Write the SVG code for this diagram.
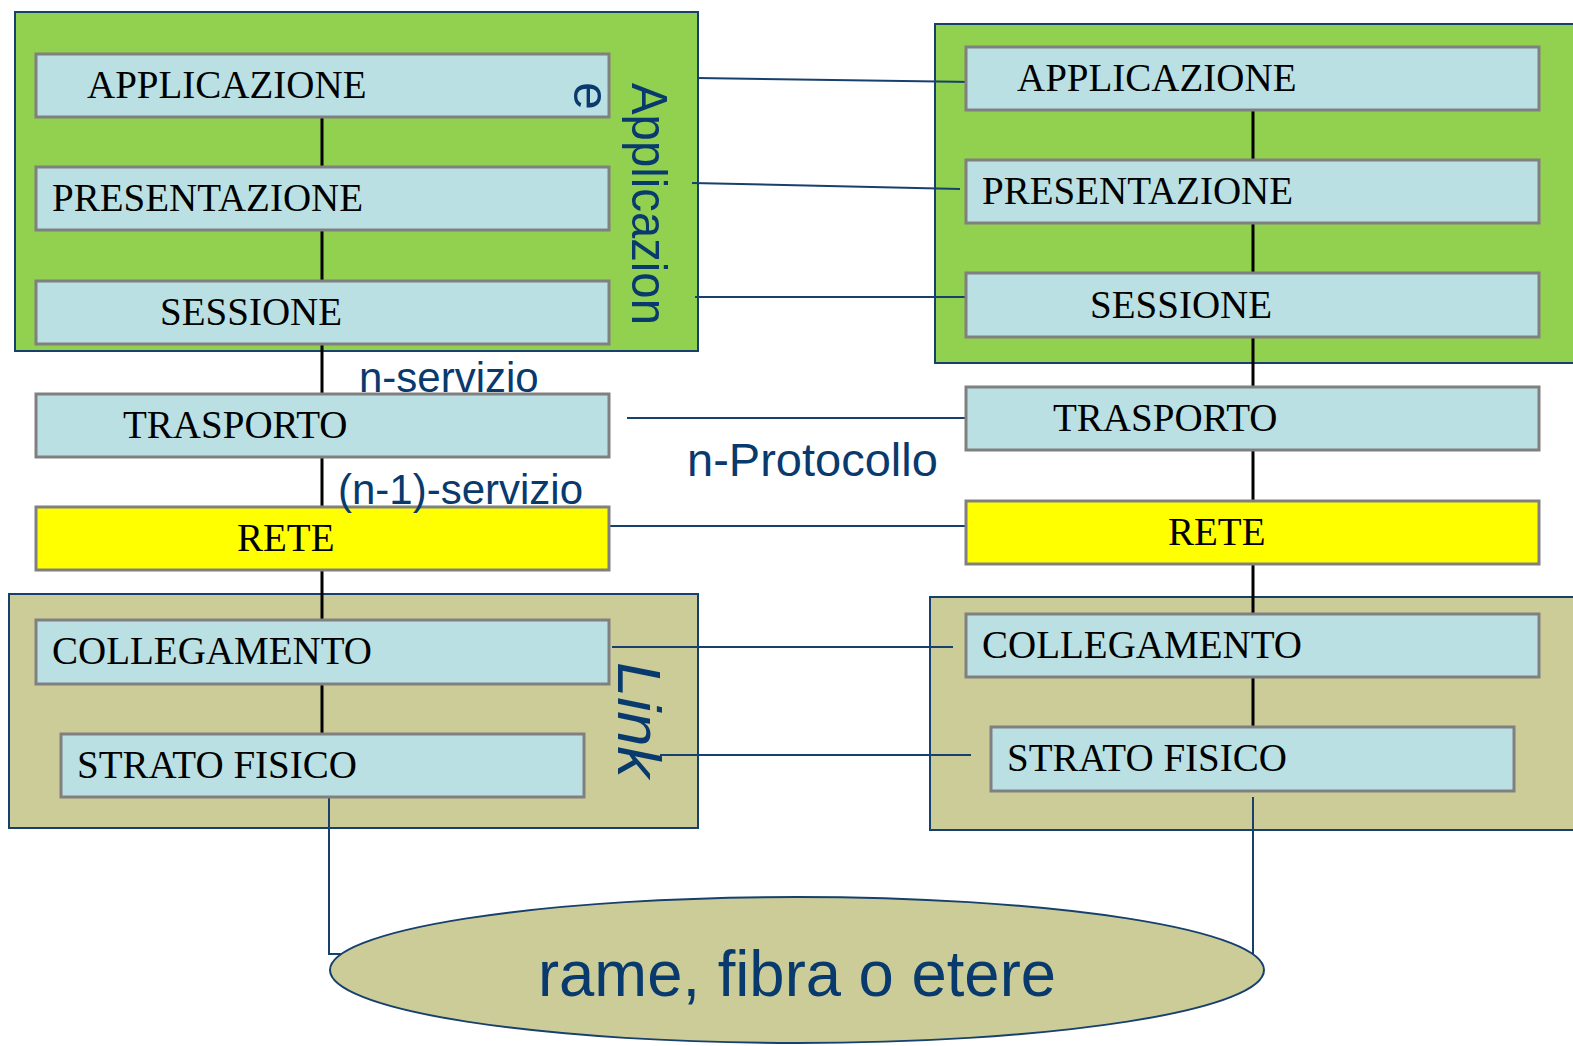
<svg xmlns="http://www.w3.org/2000/svg" width="1573" height="1046" viewBox="0 0 1573 1046">
<style>
.grp{fill:#92d050;stroke:#17406d;stroke-width:2}
.tan{fill:#cccc99;stroke:#17406d;stroke-width:2}
.box{fill:#bae0e3;stroke:#808080;stroke-width:3}
.yel{fill:#ffff00;stroke:#808080;stroke-width:3}
.lt{font-family:"Liberation Serif","Times New Roman",serif;font-size:39px;fill:#000}
.lab{font-family:"Liberation Sans",Arial,sans-serif;fill:#083a6e}
.vl{stroke:#000;stroke-width:3}
.bl{stroke:#17406d;stroke-width:2;fill:none}
</style>
<rect width="1573" height="1046" fill="#fff"/>
<g id="group-app-left"><rect class="grp" x="15" y="12" width="683" height="339"/></g>
<g id="group-app-right"><rect class="grp" x="935" y="24" width="645" height="339"/></g>
<g id="group-link-left"><rect class="tan" x="9" y="594" width="689" height="234"/></g>
<g id="group-link-right"><rect class="tan" x="930" y="597" width="650" height="233"/></g>
<g id="connectors">
<line class="vl" x1="322" y1="117" x2="322" y2="734"/>
<line class="vl" x1="1253" y1="110" x2="1253" y2="727"/>
<line class="bl" x1="697" y1="78" x2="973" y2="82"/>
<line class="bl" x1="692" y1="183" x2="960" y2="189"/>
<line class="bl" x1="695" y1="297" x2="970" y2="297"/>
<line class="bl" x1="627" y1="418" x2="966" y2="418"/>
<line class="bl" x1="609" y1="526" x2="966" y2="526"/>
<line class="bl" x1="612" y1="647" x2="953" y2="647"/>
<line class="bl" x1="660" y1="755" x2="971" y2="755"/>
<polyline class="bl" points="329,797 329,954 345,954"/>
<line class="bl" x1="1253" y1="797" x2="1253" y2="955"/>
</g>
<g id="l-app"><rect class="box" x="36" y="54" width="573" height="63"/><text class="lt" x="87" y="98">APPLICAZIONE</text></g>
<g id="l-pres"><rect class="box" x="36" y="167" width="573" height="63"/><text class="lt" x="52" y="211">PRESENTAZIONE</text></g>
<g id="l-sess"><rect class="box" x="36" y="281" width="573" height="63"/><text class="lt" x="160" y="325">SESSIONE</text></g>
<g id="l-trasp"><rect class="box" x="36" y="394" width="573" height="63"/><text class="lt" x="123" y="438">TRASPORTO</text></g>
<g id="l-rete"><rect class="yel" x="36" y="507" width="573" height="63"/><text class="lt" x="237" y="551">RETE</text></g>
<g id="l-coll"><rect class="box" x="36" y="620" width="573" height="64"/><text class="lt" x="52" y="664">COLLEGAMENTO</text></g>
<g id="l-fis"><rect class="box" x="61" y="734" width="523" height="63"/><text class="lt" x="77" y="778">STRATO FISICO</text></g>
<g id="r-app"><rect class="box" x="966" y="47" width="573" height="63"/><text class="lt" x="1017" y="91">APPLICAZIONE</text></g>
<g id="r-pres"><rect class="box" x="966" y="160" width="573" height="63"/><text class="lt" x="982" y="204">PRESENTAZIONE</text></g>
<g id="r-sess"><rect class="box" x="966" y="273" width="573" height="64"/><text class="lt" x="1090" y="318">SESSIONE</text></g>
<g id="r-trasp"><rect class="box" x="966" y="387" width="573" height="63"/><text class="lt" x="1053" y="431">TRASPORTO</text></g>
<g id="r-rete"><rect class="yel" x="966" y="501" width="573" height="63"/><text class="lt" x="1168" y="545">RETE</text></g>
<g id="r-coll"><rect class="box" x="966" y="614" width="573" height="63"/><text class="lt" x="982" y="658">COLLEGAMENTO</text></g>
<g id="r-fis"><rect class="box" x="991" y="727" width="523" height="64"/><text class="lt" x="1007" y="771">STRATO FISICO</text></g>
<g id="medium"><ellipse cx="797" cy="970" rx="467" ry="73" fill="#cccc99" stroke="#17406d" stroke-width="2"/>
<text class="lab" x="538" y="996" font-size="64" textLength="518" lengthAdjust="spacingAndGlyphs">rame, fibra o etere</text></g>
<g id="labels">
<text class="lab" font-size="50" transform="translate(632,83) rotate(90)" textLength="242" lengthAdjust="spacingAndGlyphs">Applicazion</text>
<text class="lab" font-size="50" transform="translate(574,82) rotate(90)">e</text>
<text class="lab" font-size="62" font-style="italic" transform="translate(618,662) rotate(90)" textLength="116" lengthAdjust="spacingAndGlyphs">Link</text>
<text class="lab" font-size="42" x="359" y="392">n-servizio</text>
<text class="lab" font-size="42" x="338" y="504">(n-1)-servizio</text>
<text class="lab" font-size="47" x="687" y="476">n-Protocollo</text>
</g>
</svg>
